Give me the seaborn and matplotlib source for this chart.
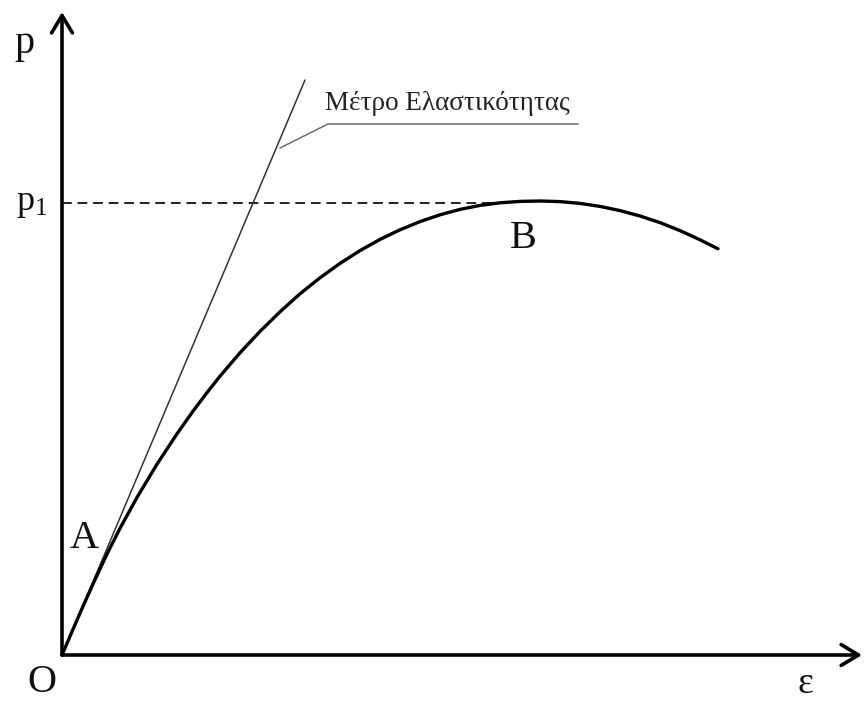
import matplotlib
matplotlib.use('Agg')
import matplotlib.pyplot as plt
import seaborn as sns
import pandas as pd
import numpy as np

# καμπύλη p - ε (τιμές σε αυθαίρετες μονάδες, διαβασμένες από το σχήμα)
eps = [0, 0.10, 0.20, 0.31, 0.45, 0.58, 0.75, 0.95, 1.15, 1.31, 1.45, 1.58,
       1.78, 1.98, 2.18, 2.38, 2.58, 2.78, 2.98, 3.18, 3.38, 3.58, 3.78, 3.98,
       4.18, 4.38, 4.58, 4.78, 4.98, 5.18, 5.38, 5.58, 5.78, 5.98, 6.18, 6.38,
       6.56]
p = [0, 0.234, 0.464, 0.710, 1.010, 1.267, 1.576, 1.908, 2.212, 2.438,
     2.624, 2.788, 3.022, 3.236, 3.432, 3.612, 3.772, 3.916, 4.044, 4.156,
     4.252, 4.334, 4.402, 4.456, 4.496, 4.522, 4.536, 4.540, 4.534, 4.516,
     4.486, 4.444, 4.390, 4.324, 4.244, 4.152, 4.062]

# εφαπτομένη στην αρχή (μέτρο ελαστικότητας)
tangent_eps = [0, 2.43]
tangent_p = [0, 5.75]

p1 = 4.52
p1_eps_end = 4.40
point_B = (4.61, 4.17)

df = pd.DataFrame({'eps': eps, 'p': p})
df_tan = pd.DataFrame({'eps': tangent_eps, 'p': tangent_p})

sns.set_theme(style='white')
plt.rcParams['font.family'] = ['Liberation Serif', 'DejaVu Serif']
plt.rcParams['mathtext.fontset'] = 'custom'
plt.rcParams['mathtext.rm'] = 'Liberation Serif'

fig = plt.figure(figsize=(8.65, 7.02), dpi=100)
ax = fig.add_axes([0, 0, 1, 1])
ax.set_xlim(-0.62, 8.03)
ax.set_ylim(-0.47, 6.55)
ax.axis('off')

# άξονες με βέλη
arrow_kw = dict(arrowstyle='->,head_length=0.5,head_width=0.3', color='black',
                lw=2.6, shrinkA=0, shrinkB=0, mutation_scale=25)
ax.annotate('', xy=(0, 6.43), xytext=(0, 0), arrowprops=arrow_kw)
ax.annotate('', xy=(8.00, 0), xytext=(0, 0), arrowprops=arrow_kw)

# οριζόντια διακεκομμένη p1
ax.plot([0, p1_eps_end], [p1, p1], color='#222222', lw=1.4, ls=(0, (5, 3)))

# εφαπτομένη
sns.lineplot(data=df_tan, x='eps', y='p', color='#333333', linewidth=1.1,
             ax=ax, sort=False)

# καμπύλη
sns.lineplot(data=df, x='eps', y='p', color='black', linewidth=2.4, ax=ax,
             sort=False, solid_joinstyle='round', solid_capstyle='round')

# ετικέτα μέτρου ελαστικότητας με γραμμή
ax.plot([2.18, 2.66, 5.16], [5.07, 5.31, 5.31], color='#777777', lw=1.2)
ax.text(2.63, 5.45, 'Μέτρο Ελαστικότητας', fontsize=19.5, ha='left',
        va='baseline', color='#222222')

# γράμματα
lab = dict(fontsize=29, color='#111111', ha='center', va='center')
ax.text(0.22, 1.17, 'A', **lab)
ax.text(point_B[0], point_B[1], 'B', **lab)
ax.text(-0.20, -0.28, 'O', **lab)
ax.text(7.43, -0.29, 'ε', fontsize=27, color='#111111', ha='center',
        va='center')
ax.text(-0.38, 6.12, 'p', **lab)
ax.text(-0.30, p1, r'$\mathregular{p_1}$', fontsize=26, color='#111111',
        ha='center', va='center')

plt.savefig('out.png', dpi=100)
